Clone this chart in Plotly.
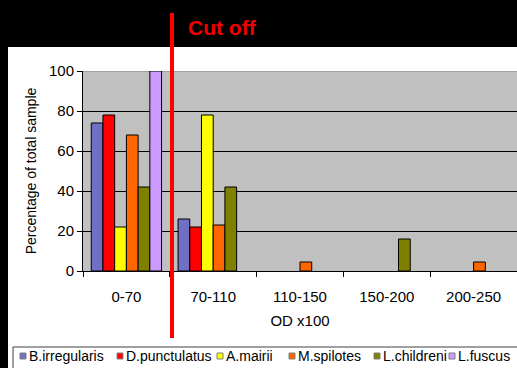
import plotly.graph_objects as go

categories = ["0-70", "70-110", "110-150", "150-200", "200-250"]
series_names = ["B.irregularis", "D.punctulatus", "A.mairii", "M.spilotes", "L.childreni", "L.fuscus"]
b_irregularis = [74, 26, 0, 0, 0]
d_punctulatus = [78, 22, 0, 0, 0]
a_mairii = [22, 78, 0, 0, 0]
m_spilotes = [68, 23, 4.5, 0, 4.5]
l_childreni = [42, 42, 0, 16, 0]
l_fuscus = [100, 0, 0, 0, 0]
y_ticks = [0, 20, 40, 60, 80, 100]

values = [b_irregularis, d_punctulatus, a_mairii, m_spilotes, l_childreni, l_fuscus]
colors = ["#6f6fc4", "#ff0000", "#ffff00", "#ff6600", "#808000", "#cc99ff"]

W, H = 517, 368
L, R, T, B = 83, 0, 71, 97
PW, PH = W - L - R, H - T - B


def px(x):
    return (x - L) / PW


def py(y):
    return (H - B - y) / PH


FONT = "Liberation Sans, Arial, sans-serif"

fig = go.Figure()
for name, vals, col in zip(series_names, values, colors):
    fig.add_trace(go.Bar(
        x=categories, y=[v if v else None for v in vals], name=name,
        marker=dict(color=col, line=dict(color="#000000", width=1)),
        showlegend=False,
    ))

shapes = [
    dict(type="rect", xref="paper", yref="paper", x0=px(-2), x1=px(W + 2), y0=py(47), y1=py(-2),
         fillcolor="#000000", line=dict(width=0), layer="below"),
    dict(type="rect", xref="paper", yref="paper", x0=px(-2), x1=px(8), y0=py(H + 2), y1=py(-2),
         fillcolor="#000000", line=dict(width=0), layer="below"),
    dict(type="line", xref="paper", yref="y", x0=0, x1=1, y0=100, y1=100,
         line=dict(color="#808080", width=1), layer="between"),
    dict(type="rect", xref="paper", yref="paper", x0=px(13), x1=px(W + 5), y0=py(H + 5), y1=py(347),
         fillcolor="#ffffff", line=dict(color="#404040", width=1), layer="above"),
    dict(type="line", xref="paper", yref="paper", x0=px(172), x1=px(172), y0=py(13), y1=py(338),
         line=dict(color="#ff0000", width=4), layer="above"),
]

annotations = [
    dict(text="<b>Cut off</b>", xref="paper", yref="paper", x=px(186), y=py(27),
         xanchor="left", yanchor="middle", showarrow=False,
         font=dict(family=FONT, size=21, color="#f00000")),
]

sq_x = [20, 117, 217, 289, 374, 449]
leg_y = 356
for name, col, sx in zip(series_names, colors, sq_x):
    shapes.append(dict(type="rect", xref="paper", yref="paper",
                       x0=px(sx), x1=px(sx + 6), y0=py(leg_y + 3), y1=py(leg_y - 3),
                       fillcolor=col, line=dict(color="#808080", width=1), layer="above"))
    annotations.append(dict(text=name, xref="paper", yref="paper", x=px(sx + 7), y=py(leg_y),
                            xanchor="left", yanchor="middle", showarrow=False,
                            font=dict(family=FONT, size=14, color="#000000")))

fig.update_layout(
    width=W, height=H,
    margin=dict(l=L, r=R, t=T, b=B, pad=0),
    paper_bgcolor="#ffffff",
    plot_bgcolor="#c0c0c0",
    barmode="group",
    bargap=0.19,
    bargroupgap=0,
    showlegend=False,
    font=dict(family=FONT, size=15, color="#000000"),
    shapes=shapes,
    annotations=annotations,
    xaxis=dict(
        type="category", showline=True, linecolor="#000000", linewidth=1,
        ticks="outside", tickson="boundaries", ticklen=5, tickcolor="#000000",
        showgrid=False, ticklabelstandoff=12,
        title=dict(text="OD x100", standoff=11, font=dict(size=15)),
        tickfont=dict(size=15),
    ),
    yaxis=dict(
        range=[0, 100], tickvals=y_ticks, showline=True, linecolor="#000000", linewidth=1,
        ticks="outside", ticklen=5, tickcolor="#000000",
        showgrid=True, gridcolor="#000000", gridwidth=1, zeroline=False,
        title=dict(text="Percentage of total sample", standoff=9, font=dict(size=14)),
        tickfont=dict(size=15),
    ),
)

fig.write_html("out.html")
